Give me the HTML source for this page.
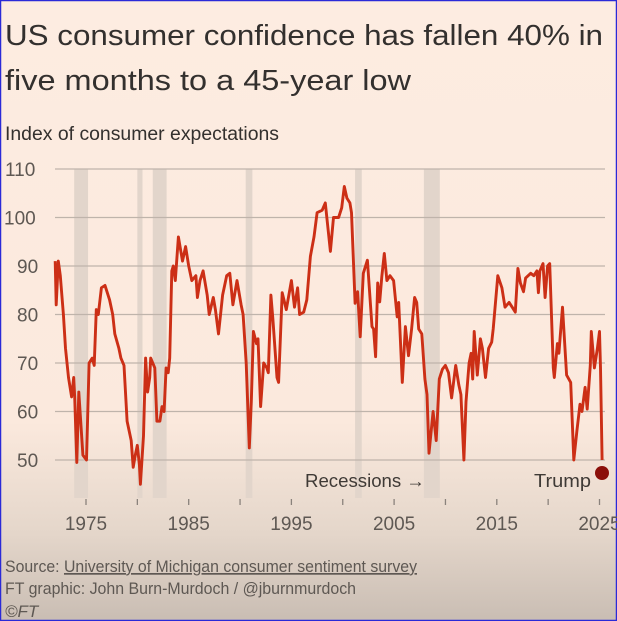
<!DOCTYPE html>
<html><head><meta charset="utf-8"><style>
html,body{margin:0;padding:0;}
body{width:617px;height:621px;overflow:hidden;}
svg{display:block;}
</style></head><body>
<svg id="s" width="617" height="621" viewBox="0 0 617 621" xmlns="http://www.w3.org/2000/svg" font-family="Liberation Sans, sans-serif">
<defs>
<linearGradient id="bg" x1="0" y1="0" x2="0" y2="1">
<stop offset="0" stop-color="#fdece1"/>
<stop offset="0.68" stop-color="#fbe9dd"/>
<stop offset="0.86" stop-color="#e4d6ca"/>
<stop offset="1" stop-color="#c9bdb3"/>
</linearGradient>
</defs>
<rect x="0" y="0" width="617" height="621" fill="url(#bg)"/>
<rect x="0.5" y="0.5" width="616" height="620" fill="none" stroke="#2a2ad8" stroke-width="1.5"/>
<text x="5" y="45" font-size="29" fill="#33302e" textLength="598" lengthAdjust="spacingAndGlyphs">US consumer confidence has fallen 40% in</text>
<text x="5" y="90" font-size="29" fill="#33302e" textLength="406" lengthAdjust="spacingAndGlyphs">five months to a 45-year low</text>
<text x="5" y="140" font-size="19" fill="#33302e" textLength="274" lengthAdjust="spacingAndGlyphs">Index of consumer expectations</text>
<g id="rec" fill="#e2d5cb"></g>
<g id="grid" stroke="#bfb4ab" stroke-width="1.2"></g>
<g id="ylab" font-size="19" fill="#5e5853"></g>
<g id="xt" stroke="#8a827c" stroke-width="1.3"></g>
<g id="xlab" font-size="19" fill="#5e5853" text-anchor="middle"></g>
<text x="305" y="487" font-size="18" fill="#3f3a36" textLength="120" lengthAdjust="spacingAndGlyphs">Recessions →</text>
<text x="534" y="487" font-size="18" fill="#3f3a36" textLength="57" lengthAdjust="spacingAndGlyphs">Trump</text>
<polyline id="line" fill="none" stroke="#cc2f16" stroke-width="2.9" stroke-linejoin="round"/>
<circle cx="602" cy="473" r="7" fill="#8b0f0a"/>
<text x="5" y="572" font-size="17" fill="#5e5853" textLength="412" lengthAdjust="spacingAndGlyphs">Source: <tspan text-decoration="underline">University of Michigan consumer sentiment survey</tspan></text>
<text x="5" y="594" font-size="17" fill="#5e5853" textLength="351" lengthAdjust="spacingAndGlyphs">FT graphic: John Burn-Murdoch / @jburnmurdoch</text>
<text x="5" y="617" font-size="17" fill="#5e5853" font-style="italic">©FT</text>
</svg>
<script>
var NS="http://www.w3.org/2000/svg";
function X(y){return 86+(y-1975)*10.27;}
function Y(v){return 169+(110-v)*4.85;}
function el(p,t,a,txt){var e=document.createElementNS(NS,t);for(var k in a)e.setAttribute(k,a[k]);if(txt)e.textContent=txt;document.getElementById(p).appendChild(e);}
[[1973.85,1975.2],[1980.0,1980.5],[1981.5,1982.85],[1990.55,1991.2],[2001.2,2001.85],[2007.9,2009.45]].forEach(function(r){el("rec","rect",{x:X(r[0]),y:169,width:X(r[1])-X(r[0]),height:329});});
for(var v=50;v<=110;v+=10){el("grid","line",{x1:55,x2:605,y1:Y(v),y2:Y(v)});el("ylab","text",{x:v==110?5:v==100?4:17,y:Y(v)+7},""+v);}
for(var yr=1975;yr<=2025;yr+=5){el("xt","line",{x1:X(yr),x2:X(yr),y1:499,y2:505});}
for(var yr=1975;yr<=2025;yr+=10){el("xlab","text",{x:X(yr),y:530},""+yr);}
var d=[[1972.0,91],[1972.1,82],[1972.3,91],[1972.5,88],[1972.8,80],[1973.0,73],[1973.3,67],[1973.6,63],[1973.8,67],[1973.9,63],[1974.1,49.5],[1974.3,64],[1974.7,51],[1975.05,50],[1975.3,70],[1975.6,71],[1975.8,69.5],[1976.0,81],[1976.2,80],[1976.5,85.5],[1976.85,86],[1977.3,83],[1977.6,80],[1977.8,76],[1978.2,73],[1978.4,71],[1978.7,69.5],[1979.0,58],[1979.4,54],[1979.6,48.5],[1979.8,51],[1980.0,53],[1980.2,49],[1980.3,45],[1980.6,55],[1980.8,71],[1981.0,64],[1981.2,67],[1981.3,71],[1981.7,69],[1981.9,58],[1982.2,58],[1982.4,61],[1982.6,60],[1982.8,69],[1983.0,68],[1983.15,71],[1983.35,89],[1983.5,90],[1983.7,87],[1984.0,96],[1984.4,91],[1984.7,94],[1985.0,90],[1985.3,87],[1985.7,88],[1985.85,83.5],[1986.1,87],[1986.4,89],[1986.8,84],[1987.0,80],[1987.4,83.5],[1987.6,81],[1987.9,76],[1988.3,84],[1988.7,88],[1989.0,88.5],[1989.3,82],[1989.7,87],[1990.1,82],[1990.3,80],[1990.6,70],[1990.9,52.5],[1991.1,62],[1991.3,76.5],[1991.6,74],[1991.75,75],[1992.0,61],[1992.3,70],[1992.6,69],[1992.75,68],[1993.0,84],[1993.2,79],[1993.6,67],[1993.75,66],[1994.1,84.5],[1994.5,81],[1995.0,87],[1995.3,81.5],[1995.6,85.5],[1995.8,80],[1996.2,80.5],[1996.5,83],[1996.85,92],[1997.2,96],[1997.5,101],[1998.0,101.5],[1998.3,103],[1998.8,93],[1999.1,100],[1999.6,100],[1999.9,102],[2000.15,106.4],[2000.4,104],[2000.7,103],[2000.85,101],[2001.2,82.3],[2001.45,84.7],[2001.7,75.4],[2002.0,88.5],[2002.4,91.2],[2002.85,77.5],[2003.0,77],[2003.2,71.3],[2003.4,86.5],[2003.6,82.6],[2003.8,87.8],[2004.05,92.6],[2004.3,87],[2004.6,88],[2004.95,87],[2005.3,79.5],[2005.45,82.5],[2005.8,66],[2006.1,77.5],[2006.4,71.5],[2006.7,77],[2007.0,83.5],[2007.2,82.5],[2007.4,77],[2007.7,76],[2008.0,66.7],[2008.2,63.5],[2008.4,51.4],[2008.8,60],[2009.1,54],[2009.4,66.7],[2009.7,68.7],[2010.0,69.5],[2010.3,68],[2010.6,62.8],[2011.0,69.5],[2011.3,65.5],[2011.5,63.5],[2011.8,50],[2012.0,62],[2012.3,70],[2012.5,72],[2012.65,66.7],[2012.8,76.5],[2013.1,67.5],[2013.4,75],[2013.6,73],[2013.9,67],[2014.2,73],[2014.5,74.3],[2014.65,77],[2015.1,88],[2015.5,85.5],[2015.8,81.5],[2016.2,82.5],[2016.5,81.5],[2016.8,80.5],[2017.05,89.5],[2017.3,86.5],[2017.6,84.7],[2017.8,87.5],[2018.3,88.5],[2018.6,88],[2018.9,89],[2019.05,84.5],[2019.2,89],[2019.5,90.5],[2019.7,83.5],[2019.95,90],[2020.15,90.5],[2020.5,69],[2020.6,67],[2020.9,74],[2021.05,72],[2021.4,81.5],[2021.8,67.5],[2022.2,66],[2022.5,50],[2022.8,56],[2023.1,61.5],[2023.3,60],[2023.6,65],[2023.8,60.5],[2024.1,69.5],[2024.2,76.5],[2024.5,69],[2024.8,73],[2025.0,76.5],[2025.1,69],[2025.25,50]];
document.getElementById("line").setAttribute("points",d.map(function(p){return X(p[0]).toFixed(1)+","+Y(p[1]).toFixed(1);}).join(" "));
</script>
</body></html>
